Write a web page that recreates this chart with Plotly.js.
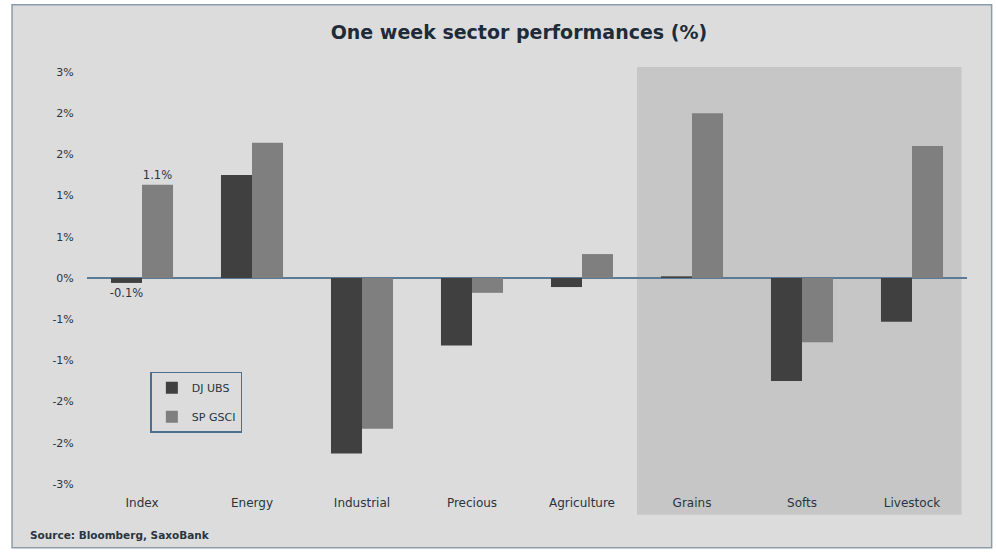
<!DOCTYPE html>
<html><head><meta charset="utf-8">
<script src="https://cdn.plot.ly/plotly-3.0.1.min.js"></script>
<style>html,body{margin:0;padding:0;background:#fff;}#chart{width:996px;height:553px;}</style>
</head><body><div id="chart"></div>
<script>
const categories = ["Index","Energy","Industrial","Precious","Agriculture","Grains","Softs","Livestock"];
const djUbs  = [-0.06, 1.25, -2.13, -0.82, -0.11, 0.02, -1.25, -0.53];
const spGsci = [1.13, 1.64, -1.83, -0.18, 0.29, 2.00, -0.78, 1.60];
const djLabels = ["-0.1%","","","","","","",""];
const spLabels = ["1.1%","","","","","","",""];
const tickVals = [-2.5,-2,-1.5,-1,-0.5,0,0.5,1,1.5,2,2.5];
const tickText = ["-3%","-2%","-2%","-1%","-1%","0%","1%","1%","2%","2%","3%"];

const labelFont = {family:"DejaVu Sans", size:11.5, color:"#2a3440"};

const traces = [
  {type:"bar", name:"DJ UBS", x:categories, y:djUbs, text:djLabels, textposition:"outside", constraintext:"none",
   textfont:labelFont, cliponaxis:false, marker:{color:"#404040"}, legendgroup:"a"},
  {type:"bar", name:"SP GSCI", x:categories, y:spGsci, text:spLabels, textposition:"outside", constraintext:"none",
   textfont:labelFont, cliponaxis:false, marker:{color:"#7f7f7f"}, legendgroup:"b"}
];

const layout = {
  width:996, height:553,
  margin:{l:87, r:29, t:67, b:69},
  paper_bgcolor:"#ffffff", plot_bgcolor:"rgba(0,0,0,0)",
  barmode:"group", bargap:0.436, bargroupgap:0,
  title:{text:"<b>One week sector performances (%)</b>", x:0.521, xanchor:"center", y:0.942, yanchor:"middle",
         font:{family:"DejaVu Sans", size:19, color:"#1e2b38"}},
  xaxis:{type:"category", showgrid:false, zeroline:false, showline:false, ticks:"outside", ticklen:8, tickcolor:"rgba(0,0,0,0)",
         tickfont:{family:"DejaVu Sans", size:12, color:"#2a3440"}, range:[-0.5,7.5], fixedrange:true},
  yaxis:{range:[-2.5,2.56], tickvals:tickVals, ticktext:tickText, showgrid:false, zeroline:true,
         zerolinecolor:"#5b7a96", zerolinewidth:1.2, showline:false, ticks:"outside", ticklen:10, tickcolor:"rgba(0,0,0,0)",
         tickfont:{family:"DejaVu Sans", size:11, color:"#2a3440"}},
  showlegend:true,
  legend:{x:0.072, y:0.269, xanchor:"left", yanchor:"top", bgcolor:"#dcdcdc", bordercolor:"#4d6f8f", borderwidth:1.5,
          font:{family:"DejaVu Sans", size:11, color:"#2a3440"}, tracegroupgap:10, itemwidth:30},
  shapes:[
    {type:"rect", xref:"paper", yref:"paper", x0:-0.0852, x1:1.028, y0:-0.153, y1:1.149,
     fillcolor:"#dcdcdc", line:{color:"#8c9cac", width:1.5}, layer:"below"},
    {type:"rect", xref:"x", yref:"paper", x0:4.5, x1:7.45, y0:-0.074, y1:1.0,
     fillcolor:"#c6c6c6", line:{width:0}, layer:"below"}
  ],
  annotations:[
    {text:"<b>Source: Bloomberg, SaxoBank</b>", xref:"paper", yref:"paper", x:-0.067, y:-0.122,
     xanchor:"left", yanchor:"middle", showarrow:false, font:{family:"DejaVu Sans", size:10.5, color:"#2a3440"}}
  ]
};
Plotly.newPlot("chart", traces, layout, {displayModeBar:false, staticPlot:true});
</script></body></html>
